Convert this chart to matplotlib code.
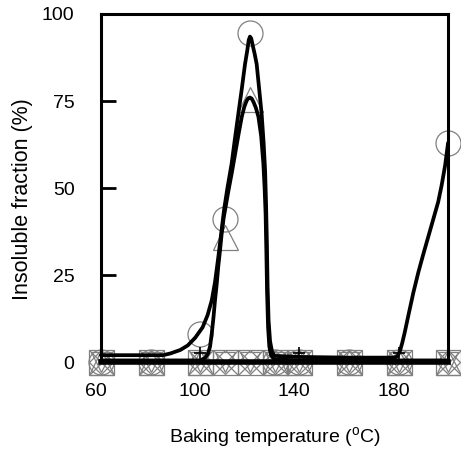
import numpy as np
import matplotlib
matplotlib.use("Agg")
from matplotlib import pyplot as plt
from matplotlib.transforms import ScaledTranslation

plt.rcParams['font.family'] = ['Liberation Sans', 'DejaVu Sans']
plt.rcParams['mathtext.fontset'] = 'custom'
plt.rcParams['mathtext.rm'] = 'Liberation Sans'

# measured points (baking temperature, insoluble fraction)
temps = [60, 80, 100, 110, 120, 130, 140, 160, 180, 200]
circle_vals = [0, 0, 8, 41, 94.5, 0, 0, 0, 0, 63]
tri_up_vals = [0, 0, 0, 36, 75.5, 0, 0, 0, 0, 0]
zero_vals = [0, 0, 0, 0, 0, 0, 0, 0, 0, 0]
plus_temps = [100, 140, 180]
plus_vals = [2.5, 2.5, 2.5]

# fitted curves
circ_fit_x = [60, 80, 85, 88, 92, 95, 98, 101, 103, 104.7, 106, 107.3, 108.5,
              109.7, 111, 112.7, 114, 115.4, 116.8, 118.1, 119, 119.6, 120.1,
              120.6, 121.2, 122, 122.8, 123.8, 124.8, 125.6, 126.2, 126.6,
              126.9, 127.2, 127.6, 128.2, 129, 130, 140, 160, 178, 179.5,
              180.5, 181.5, 182.5, 184, 186, 188, 190, 192, 194, 196, 197.4,
              198.8, 200]
circ_fit_y = [2, 2, 2, 2.5, 3.5, 4.8, 7, 10, 13.5, 17.8, 23, 30, 37, 44,
              50, 57, 64, 71.3, 78.5, 85.6, 89.5, 92.5, 93.5, 93, 91, 88.5,
              85.6, 78.5, 71.3, 63, 55, 45, 35, 22, 12, 6, 3, 1.8, 1.5, 1.3,
              1.3, 1.6, 3, 5.5, 8.5, 13.5, 20, 25.8, 31, 36, 41, 46,
              50.8, 56.5, 63]

tri_fit_x = [60, 100, 102, 103.2, 104, 104.7, 105.4, 106, 106.7, 107.3, 108,
             108.7, 109.5, 110.5, 111.4, 112.8, 114.1, 115.5, 116.8, 117.8,
             118.7, 119.4, 120.1, 120.8, 121.6, 122.5, 123.5, 124.6, 125.5,
             126, 126.4, 126.7, 127, 127.4, 127.9, 128.6, 130, 140, 200]
tri_fit_y = [0.5, 0.5, 1.2, 2.5, 4.5, 8.3, 13, 17.8, 22.5, 27.4, 32,
             37, 41.5, 45.5, 49.2, 54.5, 59.8, 65.5, 70.5, 73.3,
             75, 75.8, 76, 75.7, 74.6, 73, 70.5, 65, 57, 50, 42.5, 32, 20,
             10, 4.5, 2, 0.8, 0.5, 0.5]

fig = plt.figure(figsize=(4.61, 4.51), dpi=100)
ax = fig.add_axes([0.219, 0.197, 0.753, 0.772])

gray = '#808080'
mk = dict(mfc='none', mec=gray, mew=0.9, ls='none', clip_on=False, zorder=3)
ax.plot(temps, zero_vals, marker='s', ms=18, **mk)
ax.plot(temps, zero_vals, marker='x', ms=18, **mk)
ax.plot(temps, zero_vals, marker='D', ms=12.7, **mk)
ax.plot(temps, zero_vals, marker='v', ms=15, **mk)
ax.plot(temps, tri_up_vals, marker='^', ms=18, **mk)
ax.plot(temps, circle_vals, marker='o', ms=18, **mk)
ax.plot(plus_temps, plus_vals, marker='+', ms=8, mec='black', mew=1.2,
        ls='none', clip_on=False, zorder=4)

# curves
lw = 2.7
ax.plot(temps, zero_vals, color='black', lw=lw + 1.3, clip_on=False, zorder=5)
ax.plot(tri_fit_x, tri_fit_y, color='black', lw=lw, clip_on=False, zorder=5,
        solid_joinstyle='round', solid_capstyle='round')
ax.plot(circ_fit_x, circ_fit_y, color='black', lw=lw, clip_on=False, zorder=5,
        solid_joinstyle='round', solid_capstyle='round')

ax.set_xlim(60, 200)
ax.set_ylim(0, 100)
ax.set_xticks([60, 100, 140, 180])
ax.set_yticks([0, 25, 50, 75, 100])
ax.tick_params(axis='both', direction='in', length=11, width=2,
               labelsize=14, colors='black')
ax.tick_params(axis='y', pad=19)
ax.tick_params(axis='x', pad=15, length=0)
for lab in ax.get_xticklabels():
    lab.set_transform(lab.get_transform() +
                      ScaledTranslation(-5 / 100, 0, fig.dpi_scale_trans))
for sp in ax.spines.values():
    sp.set_linewidth(2.2)
    sp.set_zorder(6)

ax.set_xlabel(r'Baking temperature ($^{\mathrm{o}}$C)', fontsize=14)
ax.xaxis.set_label_coords(0.5, -0.18)
ax.set_ylabel('Insoluble fraction (%)', fontsize=15.5)
ax.yaxis.set_label_coords(-0.196, 0.468)

fig.savefig('out.png', dpi=100)
